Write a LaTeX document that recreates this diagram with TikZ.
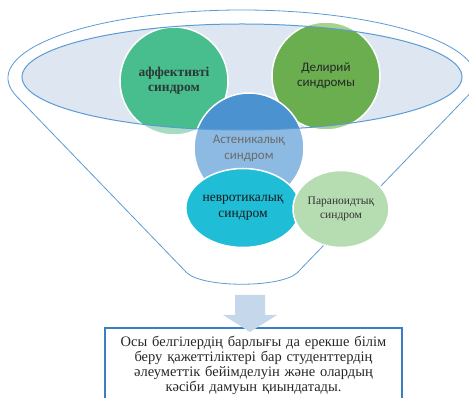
\documentclass[tikz,border=0pt]{standalone}
\usepackage{fontspec}
\setmainfont{Liberation Serif}
\newfontfamily\calib{Carlito}
\usetikzlibrary{shapes.geometric}
\definecolor{funnelc}{HTML}{5B9BD5}
\definecolor{innerc}{HTML}{DEE7F1}
\definecolor{affdark}{HTML}{48BD8E}
\definecolor{afflight}{HTML}{A6DCC2}
\definecolor{deldark}{HTML}{6AAE4F}
\definecolor{dellight}{HTML}{A9D18E}
\definecolor{astdark}{HTML}{4A93D0}
\definecolor{astlight}{HTML}{8DBAE2}
\definecolor{nevc}{HTML}{1FBDD6}
\definecolor{parc}{HTML}{B6DDB1}
\definecolor{arrowc}{HTML}{C5D7EB}
\definecolor{boxc}{HTML}{3A7FC4}
\definecolor{afftext}{HTML}{2B3A34}
\tikzset{
  bubble/.style={circle, draw=white, line width=1.5pt, inner sep=0pt,
    minimum size=108pt, align=center},
  darkin/.style={path picture={\fill[#1] (E) ellipse [x radius=220pt, y radius=53pt];}},
  oval/.style={ellipse, draw=white, line width=1.5pt, inner sep=0pt, align=center},
  funnelline/.style={draw=funnelc, line width=0.8pt},
}
\begin{document}
\begin{tikzpicture}[x=1pt,y=1pt]
\useasboundingbox (0,0) rectangle (469,398);
\coordinate (E) at (242,321);
\coordinate (bl) at (187,125);
\coordinate (br) at (297,125);
\coordinate (tl) at (16.6,301.7);
% funnel outline
\draw[funnelline] (bl) -- (tl) arc[start angle=195.6, end angle=-15.6, x radius=234, y radius=68]
  -- (br) .. controls (280,110) and (204,110) .. (bl);
% inner ellipse fill
\fill[innerc] (E) ellipse [x radius=220, y radius=53];
% circles
\node[bubble, fill=afflight, darkin=affdark, font=\bfseries\fontsize{13.5}{15}\selectfont, text=afftext] (aff) at (174,317) {аффективті\\синдром};
\node[bubble, fill=dellight, darkin=deldark, font=\calib\fontsize{13}{15}\selectfont, text=black!85] (del) at (326,322) {Делирий\\синдромы};
\node[bubble, minimum size=110pt, fill=astlight, darkin=astdark, font=\calib\fontsize{13}{16}\selectfont, text=black!58] (ast) at (249,250) {Астеникалық\\синдром};
% inner ellipse border
\draw[funnelc, line width=1pt] (E) ellipse [x radius=220, y radius=53];
\node[oval, fill=nevc, minimum width=111pt, minimum height=79pt, font=\fontsize{13.5}{16}\selectfont, text=black!90] (nev) at (243,190) {невротикалық\\синдром};
\node[oval, fill=parc, minimum width=96pt, minimum height=77pt, font=\fontsize{11.5}{14}\selectfont, text=black!80] (par) at (341,189) {Параноидтық\\синдром};
% result box
\node[draw=boxc, line width=1.2pt, minimum width=297pt, minimum height=75pt, inner sep=0pt,
  text width=292pt, align=center, font=\fontsize{14.5}{15}\selectfont, text=black!85] (box) at (253.5,32.5)
  {Осы белгілердің барлығы да ерекше білім\\беру қажеттіліктері бар студенттердің\\әлеуметтік бейімделуін және олардың\\кәсіби дамуын қиындатады.};
% block arrow
\fill[arrowc] (235,103) -- (265,103) -- (265,83) -- (277,83) -- (250,66) -- (223,83) -- (235,83) -- cycle;
\end{tikzpicture}
\end{document}
